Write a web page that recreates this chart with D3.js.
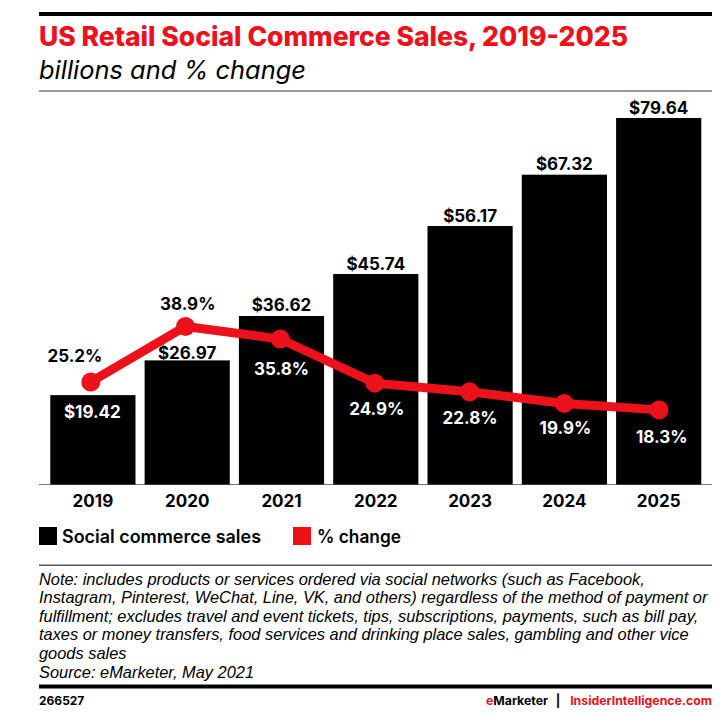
<!DOCTYPE html>
<html><head><meta charset="utf-8">
<script src="https://cdn.jsdelivr.net/npm/d3@7/dist/d3.min.js"></script>
<style>html,body{margin:0;padding:0;background:#fff}svg{display:block}text{font-family:Inter,Lato,sans-serif}</style>
</head><body><svg id="c" width="727" height="719"></svg>
<script>
const years = ["2019","2020","2021","2022","2023","2024","2025"];
const sales = [19.42,26.97,36.62,45.74,56.17,67.32,79.64];
const change = [25.2,38.9,35.8,24.9,22.8,19.9,18.3];
const salesLabels = ["$19.42","$26.97","$36.62","$45.74","$56.17","$67.32","$79.64"];
const changeLabels = ["25.2%","38.9%","35.8%","24.9%","22.8%","19.9%","18.3%"];
const title = "US Retail Social Commerce Sales, 2019-2025";
const subtitle = "billions and % change";
const noteLines = [
 "Note: includes products or services ordered via social networks (such as Facebook,",
 "Instagram, Pinterest, WeChat, Line, VK, and others) regardless of the method of payment or",
 "fulfillment; excludes travel and event tickets, tips, subscriptions, payments, such as bill pay,",
 "taxes or money transfers, food services and drinking place sales, gambling and other vice",
 "goods sales",
 "Source: eMarketer, May 2021"];
const RED="#ec111a";
const svg=d3.select("#c");
const rule=(y,h,c)=>svg.append("rect").attr("x",39).attr("y",y).attr("width",673).attr("height",h).attr("fill",c);
rule(12,4,"#000");rule(90.5,1,"#333");rule(484,1,"#777");rule(564.5,1.5,"#555");rule(684.5,4,"#000");
const txt=(x,y,s,size,w,fill,anchor,style)=>svg.append("text").attr("x",x).attr("y",y).text(s)
  .attr("font-size",size).attr("font-weight",w).attr("fill",fill).attr("text-anchor",anchor||"start").attr("font-style",style||"normal");
txt(39,46,title,26.5,800,RED).attr("textLength",589).attr("lengthAdjust","spacingAndGlyphs");
txt(39,79,subtitle,25,400,"#000","start","italic").attr("textLength",267).attr("lengthAdjust","spacingAndGlyphs");

const x=d3.scaleBand().domain(years).range([40.87,710.7]).paddingInner(0.0967).paddingOuter(0.1);
const y=d3.scaleLinear().domain([0,79.64]).range([484.5,118]);
const yPct=d3.scaleLinear().domain([0,40]).range([484,322]);
const xDot=d3.scalePoint().domain(years).range([90.8,659]);

svg.append("g").selectAll("rect").data(sales).join("rect")
 .attr("x",(d,i)=>x(years[i])).attr("width",x.bandwidth())
 .attr("y",d=>y(d)).attr("height",d=>y(0)-y(d)).attr("fill","#000");

const line=d3.line().x((d,i)=>xDot(years[i])).y(d=>yPct(d));
svg.append("path").attr("d",line(change)).attr("fill","none").attr("stroke",RED).attr("stroke-width",9);
svg.append("g").selectAll("circle").data(change).join("circle")
 .attr("cx",(d,i)=>xDot(years[i])).attr("cy",d=>yPct(d)).attr("r",9.5).attr("fill",RED);

const c=i=>x(years[i])+x.bandwidth()/2;
const lab=(s,cx,yy,fill)=>txt(cx,yy,s,17,700,fill,"middle");
const salesInside=[true,false,false,false,false,false,false];
sales.forEach((d,i)=>{
  if(salesInside[i]) lab(salesLabels[i],c(i)-0.5,y(d)+23,"#fff");
  else lab(salesLabels[i],c(i),y(d)-(i==1?1.5:4.5),"#000");
});
const pctOffsets=[[-18,-20],[0.5,-16],[0,36],[1,32],[0,32],[1,31],[3,33]];
change.forEach((d,i)=>{
  lab(changeLabels[i],c(i)+pctOffsets[i][0],yPct(d)+pctOffsets[i][1],i==0||i==1?"#000":"#fff");
});
const xAxis=d3.axisBottom(x).tickSize(0).tickPadding(9);
const ax=svg.append("g").attr("transform","translate(0,484.5)").call(xAxis);
ax.select(".domain").remove();
ax.selectAll("text").attr("font-size",17).attr("font-weight",700).attr("fill","#000").attr("dy",null).attr("y",22.5);

svg.append("rect").attr("x",39).attr("y",527).attr("width",18).attr("height",18).attr("fill","#000");
txt(62,543,"Social commerce sales",18,600,"#000").attr("textLength",199).attr("lengthAdjust","spacingAndGlyphs");
svg.append("rect").attr("x",293).attr("y",527).attr("width",18).attr("height",18).attr("fill",RED);
txt(317,543,"% change",18,600,"#000").attr("textLength",84).attr("lengthAdjust","spacingAndGlyphs");

noteLines.forEach((s,i)=>{
  svg.append("text").attr("x",39).attr("y",584.5+i*18.6).text(s)
   .attr("font-size",16.4).attr("font-style","italic").attr("fill","#000")
   .style("font-family","'Liberation Sans'");
});
txt(39,705,"266527",12,700,"#000");
const foot=svg.append("text").attr("x",486).attr("y",705).attr("font-size",12.3).attr("font-weight",700);
foot.append("tspan").text("e").attr("fill",RED);
foot.append("tspan").text("Marketer").attr("fill","#000");
txt(558,705,"|",12.3,700,"#000","middle");
txt(712,705,"InsiderIntelligence.com",12.3,700,RED,"end");
</script></body></html>
